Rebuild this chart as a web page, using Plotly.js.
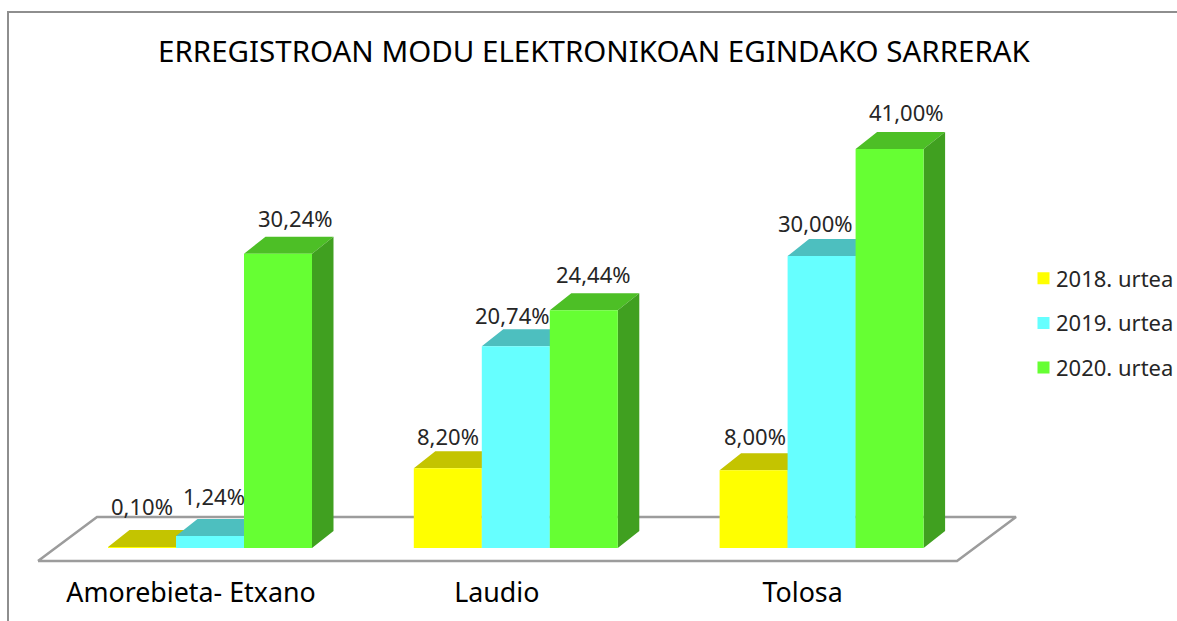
<!DOCTYPE html>
<html>
<head>
<meta charset="utf-8">
<script src="https://cdn.plot.ly/plotly-3.0.1.min.js"></script>
<style>html,body{margin:0;padding:0;background:#fff;overflow:hidden}</style>
</head>
<body>
<div id="chart" style="width:1177px;height:621px"></div>
<script>
const categories = ['Amorebieta- Etxano', 'Laudio', 'Tolosa'];
const seriesNames = ['2018. urtea', '2019. urtea', '2020. urtea'];
const values2018 = [0.10, 8.20, 8.00];
const values2019 = [1.24, 20.74, 30.00];
const values2020 = [30.24, 24.44, 41.00];
const chartTitle = 'ERREGISTROAN MODU ELEKTRONIKOAN EGINDAKO SARRERAK';

// styles and geometry, kept apart from the data
const frontColors = ['#FFFF00', '#66FFFF', '#66FF33'];
const topColors = ['#C4C400', '#4DBFBF', '#4DBF26'];
const sideColors = ['#A0A000', '#40A0A0', '#40A020'];
const FONT = '"Noto Sans", "Open Sans", sans-serif';
const W = 1177, H = 621, MB = 53;
const PX_PER_CAT = 305.8, PX_AT_CAT0 = 210, PX_PER_VAL = 9.73, PY_AT_ZERO = 548;
const xOf = px => (px - PX_AT_CAT0) / PX_PER_CAT;
const yOf = py => (PY_AT_ZERO - py) / PX_PER_VAL;
const BAR_W = 68 / PX_PER_CAT;
const DX = 21.5 / PX_PER_CAT, DY = 17 / PX_PER_VAL;
const labelShifts = [
  [[0, 41], [4, 40], [17, 36]],
  [[0, 32], [-3, 31], [10, 36]],
  [[1, 34], [-6, 33], [17, 37]]
];

const allValues = [values2018, values2019, values2020];
const indices = categories.map((_, i) => i);
const traces = [];
const annotations = [];

// floor of the 3D plot
traces.push({
  type: 'scatter', mode: 'lines', fill: 'toself', fillcolor: '#FFFFFF',
  x: [38, 957, 1016, 97, 38].map(xOf),
  y: [561, 561, 517, 517, 561].map(yOf),
  line: {color: '#9C9C9C', width: 2.5}, showlegend: false, hoverinfo: 'skip', zorder: 0
});

allValues.forEach((vals, s) => {
  const left = -1.5 * BAR_W + s * BAR_W;
  const topX = [], topY = [], sideX = [], sideY = [];
  vals.forEach((v, i) => {
    const x0 = i + left, x1 = x0 + BAR_W;
    topX.push(x0, x0 + DX, x1 + DX, x1, x0, null);
    topY.push(v, v + DY, v + DY, v, v, null);
    sideX.push(x1, x1 + DX, x1 + DX, x1, x1, null);
    sideY.push(0, DY, v + DY, v, 0, null);
    const sh = labelShifts[i][s];
    annotations.push({
      x: i + left + BAR_W / 2, y: v, xref: 'x', yref: 'y',
      text: v.toFixed(2).replace('.', ',') + '%',
      showarrow: false, xanchor: 'center', yanchor: 'middle',
      xshift: sh[0], yshift: sh[1],
      font: {family: FONT, size: 22, color: '#262626'}
    });
  });
  traces.push({
    type: 'scatter', mode: 'lines', fill: 'toself', fillcolor: topColors[s],
    x: topX, y: topY, line: {width: 0, color: topColors[s]},
    legendgroup: 'g' + s, showlegend: false, hoverinfo: 'skip', zorder: 1 + 2 * s
  });
  traces.push({
    type: 'scatter', mode: 'lines', fill: 'toself', fillcolor: sideColors[s],
    x: sideX, y: sideY, line: {width: 0, color: sideColors[s]},
    legendgroup: 'g' + s, showlegend: false, hoverinfo: 'skip', zorder: 1 + 2 * s
  });
  traces.push({
    type: 'bar', name: seriesNames[s], x: indices, y: vals,
    width: BAR_W, offset: left,
    marker: {color: frontColors[s], line: {width: 0}},
    legendgroup: 'g' + s, zorder: 2 + 2 * s,
    hovertemplate: '%{y:.2f}%<extra>' + seriesNames[s] + '</extra>'
  });
});

const plotH = H - MB;
const layout = {
  width: W, height: H,
  margin: {l: 0, r: 0, t: 0, b: MB, pad: 0, autoexpand: false},
  paper_bgcolor: '#FFFFFF', plot_bgcolor: '#FFFFFF',
  barmode: 'overlay',
  separators: ',.',
  title: {
    text: chartTitle, x: 594 / W, xanchor: 'center', y: 1 - 52 / H, yanchor: 'middle',
    font: {family: FONT, size: 29.5, color: '#000000'}
  },
  xaxis: {
    range: [xOf(0), xOf(W)], fixedrange: true, showgrid: false, zeroline: false, showline: false,
    ticks: '', tickmode: 'array',
    tickvals: indices.map(i => i - 19 / PX_PER_CAT), ticktext: categories,
    tickfont: {family: FONT, size: 26.8, color: '#000000'},
    tickangle: 0, automargin: false, ticklabelstandoff: 6
  },
  yaxis: {range: [yOf(plotH), yOf(0)], visible: false, fixedrange: true},
  legend: {
    x: 1016 / W, xanchor: 'left', y: 1 - 323 / plotH, yanchor: 'middle',
    traceorder: 'grouped', tracegroupgap: 13, bgcolor: 'rgba(0,0,0,0)',
    font: {family: FONT, size: 22, color: '#262626'}
  },
  annotations: annotations,
  shapes: [
    {type: 'line', xref: 'paper', yref: 'paper', x0: 8 / W, x1: 8 / W, y0: -MB / plotH, y1: 1 - 11 / plotH, line: {color: '#8E8E8E', width: 2}},
    {type: 'line', xref: 'paper', yref: 'paper', x0: 8 / W, x1: 1, y0: 1 - 12 / plotH, y1: 1 - 12 / plotH, line: {color: '#8E8E8E', width: 2}}
  ]
};

Plotly.newPlot('chart', traces, layout, {displayModeBar: false, responsive: false}).then(gd => {
  // nudge the legend swatches next to their text, as in the reference
  gd.querySelectorAll('.legend .legendsymbols').forEach(n => n.setAttribute('transform', 'translate(7.5,0)'));
});
</script>
</body>
</html>
